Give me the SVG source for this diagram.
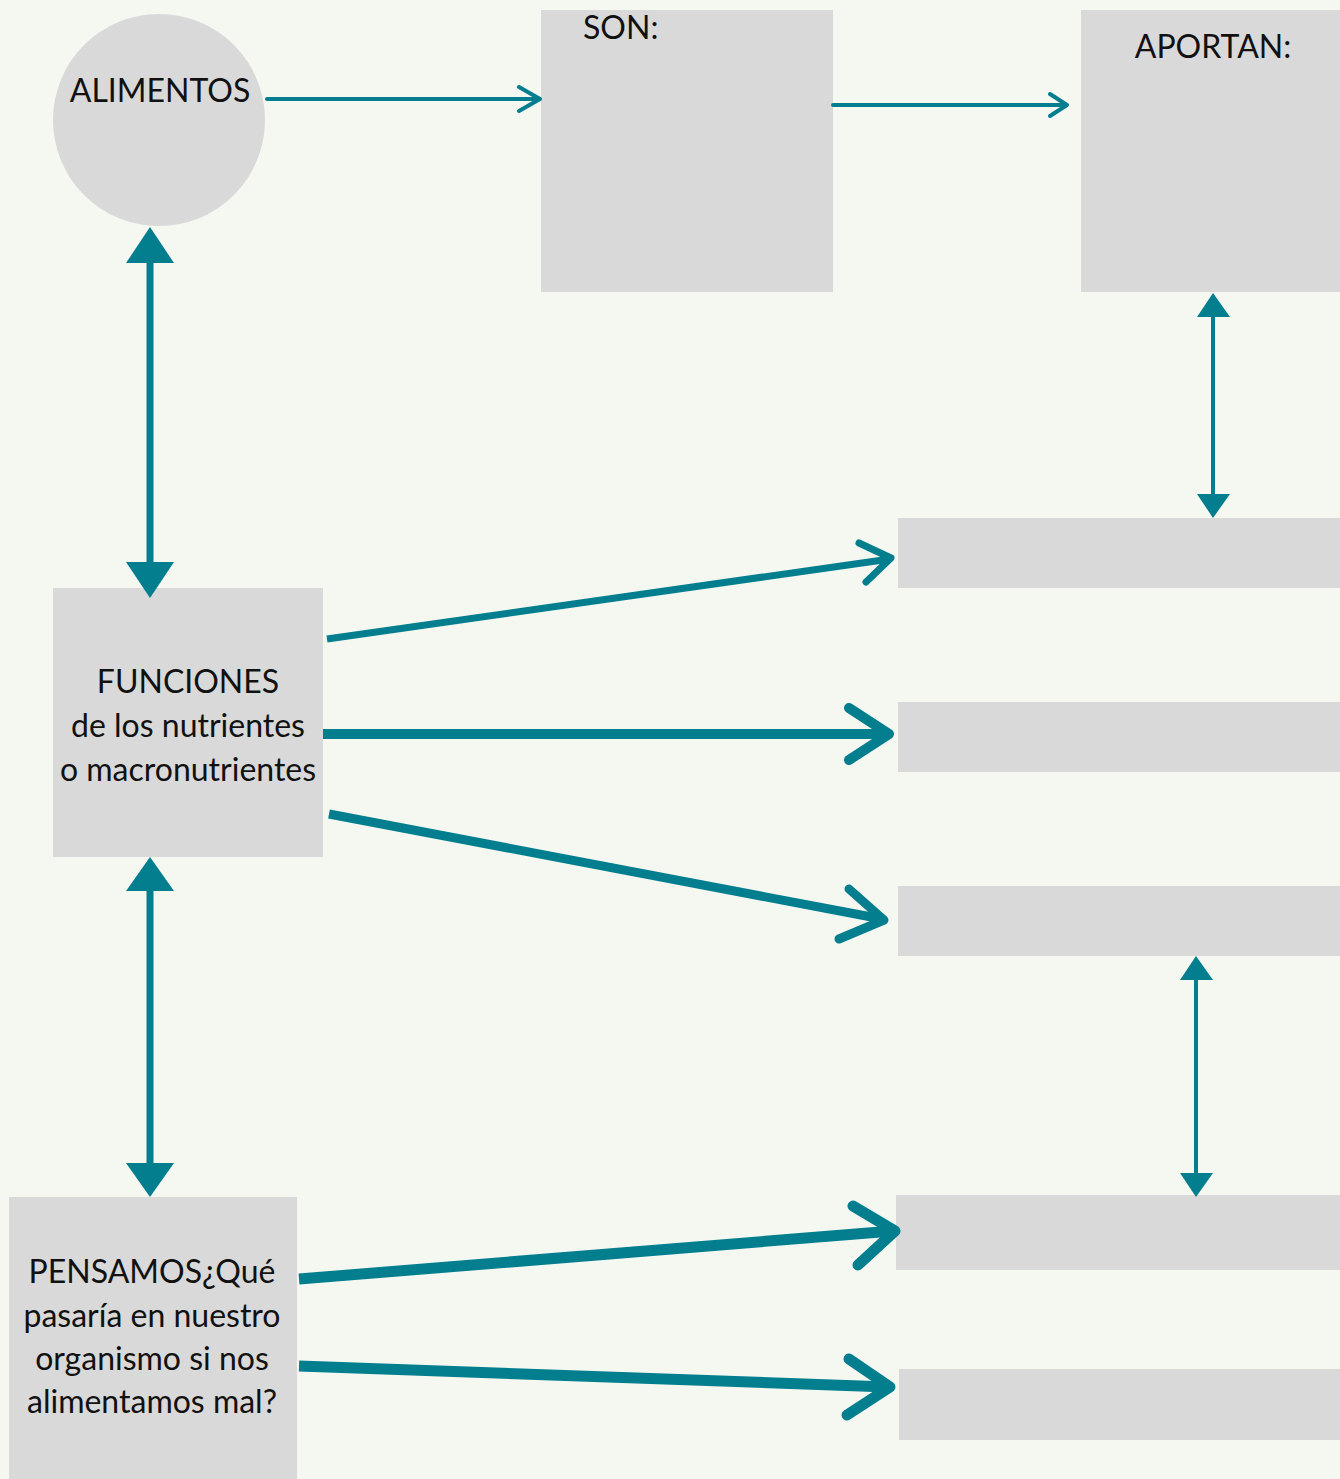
<svg xmlns="http://www.w3.org/2000/svg" width="1340" height="1479" viewBox="0 0 1340 1479">
<style>
.box{fill:#D9D9D9}
.t{font-family:Lato,"Open Sans","Liberation Sans",sans-serif;font-size:32px;fill:#111}
.c{fill:none;stroke:#027E8E;stroke-linecap:round;stroke-linejoin:round}
.tri{fill:#027E8E}
</style>
<rect x="0" y="0" width="1340" height="1479" fill="#F5F8F1"/>
<g id="alimentos"><circle class="box" cx="159" cy="120" r="106"/><text class="t" x="160" y="102" text-anchor="middle">ALIMENTOS</text></g>
<g id="son"><rect class="box" x="541" y="10" width="292" height="282"/><text class="t" x="583" y="39">SON:</text></g>
<g id="aportan"><rect class="box" x="1081" y="10" width="259" height="282"/><text class="t" x="1213" y="58" text-anchor="middle">APORTAN:</text></g>
<g id="funciones"><rect class="box" x="53" y="588" width="270" height="269"/>
<text class="t" text-anchor="middle"><tspan x="188" y="693">FUNCIONES</tspan><tspan x="188" y="737">de los nutrientes</tspan><tspan x="188" y="781">o macronutrientes</tspan></text></g>
<g id="pensamos"><rect class="box" x="9" y="1197" width="288" height="282"/>
<text class="t" text-anchor="middle"><tspan x="152" y="1283">PENSAMOS¿Qué</tspan><tspan x="152" y="1327">pasaría en nuestro</tspan><tspan x="152" y="1370">organismo si nos</tspan><tspan x="152" y="1413">alimentamos mal?</tspan></text></g>
<g id="r1"><rect class="box" x="898" y="518" width="442" height="70"/></g>
<g id="r2"><rect class="box" x="898" y="702" width="442" height="70"/></g>
<g id="r3"><rect class="box" x="898" y="886" width="442" height="70"/></g>
<g id="r4"><rect class="box" x="896" y="1195" width="444" height="75"/></g>
<g id="r5"><rect class="box" x="899" y="1369" width="441" height="71"/></g>
<g id="connectors">
<path class="c" stroke-width="4" d="M267 99H539M519 87L540 99L519 111"/>
<path class="c" stroke-width="4" d="M833 105H1066M1050 94L1067 105L1050 116"/>
<path class="c" stroke-width="7" style="stroke-linecap:butt" d="M150 258V568"/>
<polygon class="tri" points="150,227 174,263 126,263"/>
<polygon class="tri" points="150,598 174,562 126,562"/>
<path class="c" stroke-width="7" style="stroke-linecap:butt" d="M150 887V1168"/>
<polygon class="tri" points="150,857 174,891 126,891"/>
<polygon class="tri" points="150,1197 174,1163 126,1163"/>
<path class="c" stroke-width="4" style="stroke-linecap:butt" d="M1213 312V499"/>
<polygon class="tri" points="1213,293 1230,317 1197,317"/>
<polygon class="tri" points="1213,518 1230,494 1197,494"/>
<path class="c" stroke-width="4" style="stroke-linecap:butt" d="M1196 975V1178"/>
<polygon class="tri" points="1196,956 1213,980 1180,980"/>
<polygon class="tri" points="1196,1197 1213,1173 1180,1173"/>
<path class="c" stroke-width="7" style="stroke-linecap:butt" d="M327 639L890 559"/>
<path class="c" stroke-width="7" d="M859 543L891 558L866 582"/>
<path class="c" stroke-width="10" style="stroke-linecap:butt" d="M323 734H888"/>
<path class="c" stroke-width="10" d="M849 708L889 734L849 760"/>
<path class="c" stroke-width="9" style="stroke-linecap:butt" d="M329 814L882 919"/>
<path class="c" stroke-width="9" d="M849 889L884 920L839 939"/>
<path class="c" stroke-width="11" style="stroke-linecap:butt" d="M299 1279L893 1231"/>
<path class="c" stroke-width="11" d="M853 1206L895 1231L858 1265"/>
<path class="c" stroke-width="11" style="stroke-linecap:butt" d="M299 1366L888 1387"/>
<path class="c" stroke-width="11" d="M849 1359L890 1387L847 1415"/>
</g>
</svg>
